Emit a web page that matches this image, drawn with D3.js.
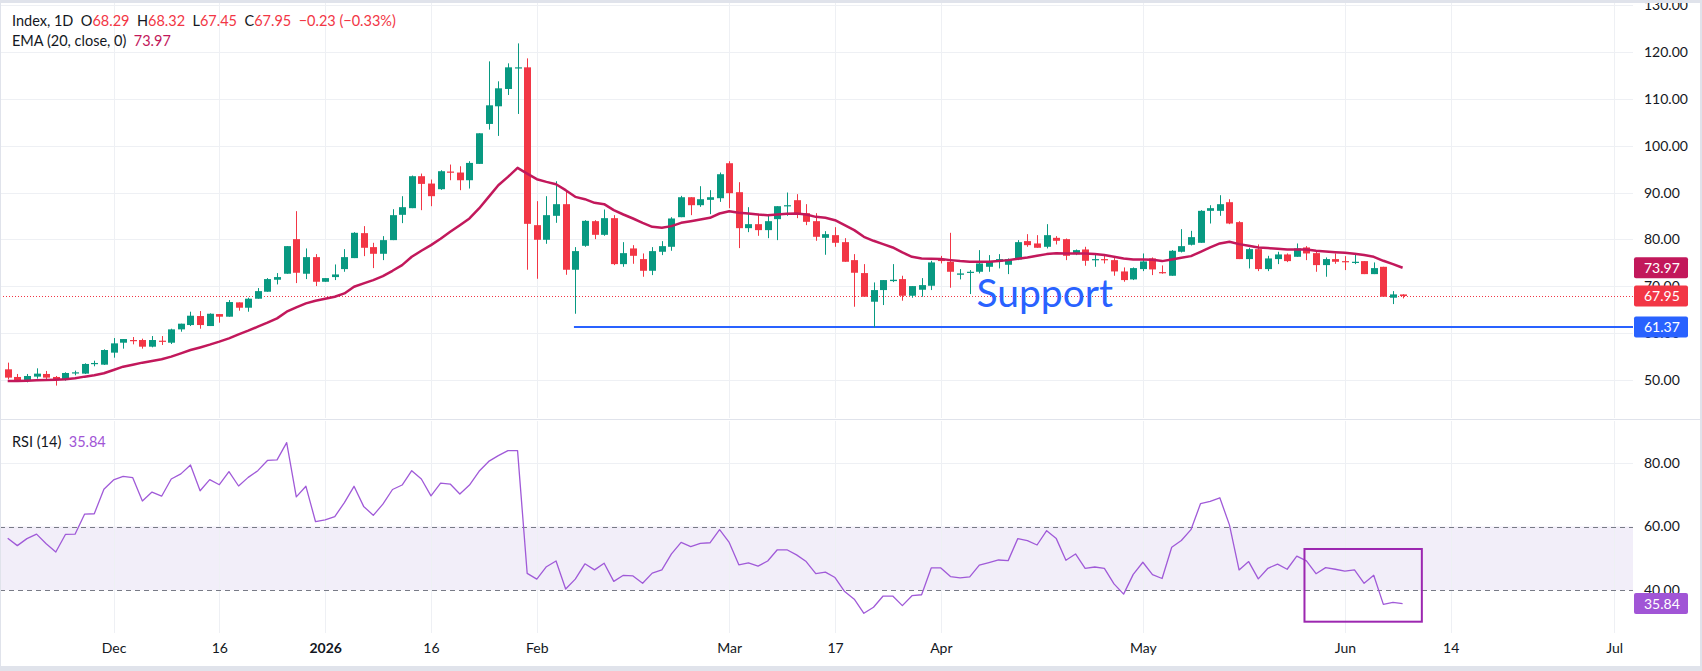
<!DOCTYPE html>
<html><head><meta charset="utf-8">
<script src="https://cdn.jsdelivr.net/npm/d3@7"></script>
<style>
html,body{margin:0;padding:0;background:#fff;}
svg{display:block;}
text{font-family:Lato,"DejaVu Sans",sans-serif;}
</style>
</head><body>
<svg id="chart" width="1702" height="671"></svg>
<script>
// ---------------- DATA ----------------
const bars = d3.range(146); // daily bars, index 0 = first visible bar
const open  = [52.34,50.71,50.07,50.78,51.35,50.71,50.07,51.49,51.42,53.55,53.33,55.89,58.01,58.58,58.58,57.16,58.44,58.01,60.85,61.77,63.69,61.56,64.11,63.55,66.6,65.46,67.38,68.87,71.42,72.7,80.07,72.7,76.24,70.99,71.99,73.69,76.03,81.35,78.37,76.95,79.86,85.25,86.67,93.48,91.91,90.71,94.47,94.26,92.62,96.1,104.61,108.37,112.06,116.52,116.67,83.05,79.93,85.04,87.52,73.55,78.65,83.9,80.99,84.54,74.75,78.09,75.82,73.33,77.38,78.44,84.75,89.0,87.3,88.44,88.79,96.24,90.07,82.41,83.26,81.99,84.33,87.09,88.37,85.6,83.9,80.35,80.92,79.43,75.6,72.84,66.74,69.22,71.13,71.56,68.01,69.29,70.14,75.7,75.25,72.48,72.91,73.12,74.18,75.32,74.61,75.74,79.65,79.15,78.44,80.35,80.07,76.88,77.87,75.67,75.82,75.6,73.19,71.49,73.69,75.96,73.05,72.27,77.38,78.87,79.29,86.1,86.1,87.94,83.69,75.82,77.94,73.69,75.82,76.81,76.31,78.3,77.09,74.54,75.82,75.39,75.04,75.39,72.62,74.18,67.59,68.29];
const high  = [53.76,51.35,51.35,52.55,51.99,50.92,51.7,52.06,53.62,54.18,56.6,59.0,58.79,59.22,58.87,59.43,59.43,60.99,62.06,64.61,64.75,64.26,64.11,67.09,66.6,67.59,69.65,71.77,72.84,78.58,86.03,78.09,76.88,71.77,74.68,77.94,81.56,82.84,79.29,80.71,86.45,89.22,93.62,94.04,92.77,94.75,95.96,95.6,96.67,102.62,117.94,113.69,117.52,121.77,118.58,88.16,89.22,92.41,90.43,78.37,84.11,84.11,86.38,85.18,79.43,78.79,77.02,78.37,79.65,84.75,89.29,89.0,91.35,90.5,94.26,96.67,92.2,86.88,85.53,85.18,87.09,90.0,89.65,87.52,85.6,81.77,82.62,80.28,76.88,74.75,70.85,71.35,74.75,72.27,70.07,71.77,75.46,76.5,81.42,73.69,73.48,77.73,76.67,76.88,75.96,79.86,81.13,80.92,83.26,80.71,80.21,77.87,78.44,76.88,76.67,76.03,74.04,74.04,77.02,76.17,74.47,77.73,82.2,81.84,86.24,87.3,89.43,88.58,83.9,78.23,78.94,76.52,77.38,77.02,79.15,78.58,77.45,76.17,77.02,76.45,77.02,75.39,75.11,74.18,69.0,68.32];
const low   = [50.2,49.86,49.57,50.35,50.2,48.87,49.93,51.06,51.35,52.98,53.26,54.82,56.74,57.66,56.74,57.02,57.52,57.73,60.35,61.56,60.99,61.56,62.27,63.55,64.82,64.61,67.38,68.87,70.43,72.7,70.71,71.56,70.07,70.99,71.35,73.12,76.03,76.45,73.9,75.6,79.86,83.48,86.67,86.24,87.09,90.57,92.62,90.5,90.85,96.1,103.4,102.06,110.78,106.74,73.55,71.63,79.08,83.55,72.48,64.18,78.44,80.07,80.78,74.54,74.18,74.82,72.06,72.41,76.67,77.59,84.75,85.18,86.95,85.39,88.01,86.67,78.16,81.56,80.78,80.28,79.86,85.04,84.54,83.05,79.72,76.74,78.44,75.25,65.67,67.8,61.28,66.03,70.92,66.95,67.59,67.8,69.22,74.9,69.72,71.49,68.37,72.77,73.12,73.83,72.62,75.6,78.44,78.23,78.09,78.94,75.6,76.67,74.4,74.18,74.89,72.27,71.0,71.35,73.26,72.41,72.7,72.27,77.23,78.72,79.29,83.4,85.04,83.26,75.82,73.83,73.26,73.26,74.75,75.18,76.31,75.6,73.12,72.06,74.82,73.48,74.75,72.62,72.62,67.8,66.24,67.45];
const close = [50.57,50.07,50.92,51.42,50.57,50.07,51.56,51.7,53.48,53.69,56.45,57.87,58.79,58.37,57.16,58.58,58.23,60.85,62.06,63.76,61.77,64.18,63.55,66.67,65.46,67.38,69.0,71.56,71.99,78.58,72.91,76.24,70.99,71.77,72.55,76.24,81.42,78.23,76.95,79.86,85.18,86.88,93.48,91.84,89.22,94.54,94.26,92.62,96.31,102.62,108.58,112.2,116.67,116.67,83.33,79.93,85.18,87.52,73.55,77.52,83.97,80.99,84.54,74.75,77.09,76.52,73.33,77.52,78.58,84.47,89.0,87.3,88.58,89.0,93.9,89.86,82.41,83.26,81.99,83.9,87.09,87.3,85.39,83.76,80.57,81.13,79.29,75.25,72.91,67.8,69.22,71.35,71.42,68.01,70.07,70.28,75.11,75.4,73.12,72.77,73.12,74.89,75.32,75.82,75.82,79.43,78.79,78.23,80.92,79.72,76.52,77.73,75.46,75.82,75.6,73.19,71.35,73.9,75.32,73.62,72.84,77.59,78.58,80.5,86.1,86.67,87.52,83.4,75.82,77.94,73.69,75.96,76.81,75.39,78.09,77.02,74.54,75.82,75.25,75.18,75.25,72.62,73.9,67.8,68.3,67.95];
const ema20 = [49.86,49.86,49.93,50.0,50.07,50.14,50.21,50.43,50.78,51.06,51.49,52.2,52.9,53.33,53.76,54.11,54.47,55.04,55.74,56.45,57.0,57.59,58.23,58.94,59.79,60.57,61.42,62.27,63.19,64.61,65.53,66.38,66.95,67.38,67.8,68.51,69.93,70.64,71.35,72.2,73.33,74.54,76.31,77.59,78.79,80.14,81.63,83.05,84.47,86.6,89.08,91.56,93.33,95.25,94.04,92.84,92.27,91.77,90.5,89.08,88.58,87.8,87.52,86.24,85.32,84.47,83.55,82.7,82.48,82.84,83.55,83.9,84.25,84.61,85.53,86.03,85.67,85.53,85.32,85.18,85.32,85.46,85.53,85.32,84.82,84.61,84.11,83.05,81.99,80.57,79.72,79.01,78.3,77.23,76.31,75.96,75.89,75.82,75.6,75.39,75.25,75.25,75.25,75.39,75.6,75.89,76.17,76.52,76.88,77.09,77.02,77.02,77.02,76.88,76.67,76.31,75.96,75.74,75.74,75.67,75.39,75.74,76.1,76.45,77.38,78.3,79.15,79.5,79.01,78.65,78.3,78.16,78.01,77.87,77.87,77.87,77.59,77.45,77.3,77.16,76.95,76.67,76.31,75.46,74.75,73.97];
const rsi14 = [56.3,54.0,56.2,57.6,54.6,52.0,57.5,57.6,63.9,64.0,71.7,74.6,75.7,75.3,68.0,70.8,69.5,74.9,76.5,79.3,71.2,74.7,73.1,77.2,72.7,75.4,77.5,80.7,80.9,86.3,69.3,72.6,61.5,62.1,63.1,67.5,72.6,66.3,63.5,67.0,71.6,73.0,77.5,74.9,69.6,73.6,73.3,70.2,73.0,77.3,80.4,82.2,83.8,83.8,45.3,43.5,47.4,49.2,40.4,43.5,48.3,46.4,48.5,42.8,44.7,44.5,42.2,45.4,46.4,51.4,55.0,53.7,54.7,54.9,59.0,55.0,48.0,48.6,47.6,49.2,52.7,52.7,51.1,49.0,45.2,45.7,44.0,39.6,37.2,32.8,34.7,38.2,38.2,35.2,38.3,38.6,47.0,47.0,44.3,43.9,44.2,47.9,48.7,49.5,49.3,56.2,55.6,54.2,58.7,56.2,49.4,51.4,46.9,47.3,46.9,42.0,38.8,45.0,48.8,44.9,43.7,53.5,55.6,59.0,67.2,67.9,69.0,60.5,46.4,49.0,43.6,46.9,48.2,46.6,50.7,49.2,45.2,47.1,46.6,46.0,46.4,42.2,44.7,35.6,36.2,35.84];

const priceTicks = [50,60,70,80,90,100,110,120,130];
const rsiTicks = [40,60,80];
const rsiBand = [40,60];
const timeTickIndex  = [11,22,33,44,55,75,86,97,118,139,150,167];
const timeTickLabels = ["Dec","16","2026","16","Feb","Mar","17","Apr","May","Jun","14","Jul"];
const timeTickBold   = ["2026"];

const supportLevel = 61.37, supportStartBar = 58.86;
const supportLabel = {text:"Support", bar:100.7, price:65.67};
const rsiBox = {bar0:134.8, bar1:147.0, top:52.95, bottom:30.16};

const legendInfo = {name:"Index, 1D", o:68.29, h:68.32, l:67.45, c:67.95, chg:-0.23, pct:-0.33};

// ---------------- LAYOUT ----------------
const W = 1702, H = 671;
const plotRight = 1633;
const pricePane = {top:3, bottom:418};
const rsiPane = {top:421, bottom:633};
const UP = "#089981", DOWN = "#f23645", EMAC = "#c2185b", BLUE = "#2962ff", RSIC = "#a05ad8", BOXC = "#9c27b0";
const GRID = "#eef0f4", TXT = "#131722";

const svg = d3.select("#chart");
svg.append("rect").attr("width",W).attr("height",H).attr("fill","#e0e3eb");
svg.append("rect").attr("x",1).attr("y",3).attr("width",W-3).attr("height",H-8).attr("fill","#ffffff");

const x = d3.scaleLinear().domain([0,145]).range([7.7, 7.7+145*9.62]);
const y = d3.scaleLinear().domain([50,120]).range([380.3, 51.7]);
const yr = d3.scaleLinear().domain([40,80]).range([590.3, 462.7]);
const fmt2 = d3.format(".2f");

const defs = svg.append("defs");
defs.append("clipPath").attr("id","cp").append("rect").attr("x",1).attr("y",pricePane.top).attr("width",plotRight-1).attr("height",pricePane.bottom-pricePane.top);
defs.append("clipPath").attr("id","cr").append("rect").attr("x",1).attr("y",rsiPane.top).attr("width",plotRight-1).attr("height",rsiPane.bottom-rsiPane.top);
defs.append("clipPath").attr("id","ca").append("rect").attr("x",1).attr("y",3).attr("width",W-3).attr("height",H-8);

// pane separator
svg.append("line").attr("x1",1).attr("x2",W-2).attr("y1",419.5).attr("y2",419.5).attr("stroke","#e0e3eb").attr("stroke-width",1);

// ---------- price pane ----------
const gp = svg.append("g").attr("clip-path","url(#cp)");
gp.selectAll("line.hg").data(priceTicks).join("line").attr("class","hg")
  .attr("x1",0).attr("x2",plotRight).attr("y1",d=>Math.round(y(d))+0.5).attr("y2",d=>Math.round(y(d))+0.5)
  .attr("stroke",GRID);
gp.selectAll("line.vg").data(timeTickIndex).join("line").attr("class","vg")
  .attr("x1",d=>Math.round(x(d))+0.5).attr("x2",d=>Math.round(x(d))+0.5).attr("y1",pricePane.top).attr("y2",pricePane.bottom)
  .attr("stroke",GRID);

// support line
gp.append("line").attr("x1",x(supportStartBar)).attr("x2",plotRight).attr("y1",y(supportLevel)).attr("y2",y(supportLevel))
  .attr("stroke",BLUE).attr("stroke-width",2);

// last close dotted line
gp.append("line").attr("x1",0).attr("x2",plotRight).attr("y1",Math.round(y(close[145]))+0.5).attr("y2",Math.round(y(close[145]))+0.5)
  .attr("stroke",DOWN).attr("stroke-width",1).attr("stroke-dasharray","1,2");

// candles
const cg = gp.append("g");
bars.forEach(i=>{
  const col = close[i] >= open[i] ? UP : DOWN;
  const cx = Math.round(x(i));
  cg.append("line").attr("x1",cx+0.5).attr("x2",cx+0.5).attr("y1",y(high[i])).attr("y2",y(low[i])).attr("stroke",col).attr("stroke-width",1);
  const t = y(Math.max(open[i],close[i])), b = y(Math.min(open[i],close[i]));
  cg.append("rect").attr("x",cx-3).attr("width",7).attr("y",t).attr("height",Math.max(1.2,b-t)).attr("fill",col);
});

// EMA
gp.append("path").datum(bars).attr("fill","none").attr("stroke",EMAC).attr("stroke-width",2.5).attr("stroke-linejoin","round")
  .attr("d",d3.line().x(i=>x(i)).y(i=>y(ema20[i])));

// Support text
gp.append("text").attr("x",x(supportLabel.bar)).attr("y",y(supportLabel.price)).text(supportLabel.text)
  .attr("fill",BLUE).attr("font-size",39);

// ---------- RSI pane ----------
const gr = svg.append("g").attr("clip-path","url(#cr)");
gr.append("rect").attr("x",0).attr("width",plotRight).attr("y",yr(rsiBand[1])).attr("height",yr(rsiBand[0])-yr(rsiBand[1])).attr("fill","#f2eef9");
gr.selectAll("line.vg").data(timeTickIndex).join("line").attr("class","vg")
  .attr("x1",d=>Math.round(x(d))+0.5).attr("x2",d=>Math.round(x(d))+0.5).attr("y1",rsiPane.top).attr("y2",rsiPane.bottom)
  .attr("stroke",GRID);
gr.append("line").attr("x1",0).attr("x2",plotRight).attr("y1",Math.round(yr(80))+0.5).attr("y2",Math.round(yr(80))+0.5).attr("stroke",GRID);
gr.selectAll("line.band").data(rsiBand).join("line").attr("class","band")
  .attr("x1",0).attr("x2",plotRight).attr("y1",d=>Math.round(yr(d))+0.5).attr("y2",d=>Math.round(yr(d))+0.5)
  .attr("stroke","#787b86").attr("stroke-dasharray","5,4");
gr.append("path").datum(bars).attr("fill","none").attr("stroke",RSIC).attr("stroke-width",1.3).attr("stroke-linejoin","round")
  .attr("d",d3.line().x(i=>x(i)).y(i=>yr(rsi14[i])));
gr.append("rect").attr("x",x(rsiBox.bar0)).attr("y",yr(rsiBox.top)).attr("width",x(rsiBox.bar1)-x(rsiBox.bar0)).attr("height",yr(rsiBox.bottom)-yr(rsiBox.top))
  .attr("fill","none").attr("stroke",BOXC).attr("stroke-width",2);

// ---------- axes ----------
const ga = svg.append("g").attr("clip-path","url(#ca)");
const pAxis = ga.append("g").attr("transform",`translate(${plotRight},0)`)
  .call(d3.axisRight(y).tickValues(priceTicks).tickFormat(fmt2).tickSize(0).tickPadding(11));
pAxis.select(".domain").remove();
pAxis.selectAll("text").attr("font-family","Lato").attr("font-size",14).attr("fill",TXT);

const rAxis = ga.append("g").attr("transform",`translate(${plotRight},0)`)
  .call(d3.axisRight(yr).tickValues(rsiTicks).tickFormat(fmt2).tickSize(0).tickPadding(11));
rAxis.select(".domain").remove();
rAxis.selectAll("text").attr("font-family","Lato").attr("font-size",14).attr("fill",TXT);

const tAxis = ga.append("g").attr("transform",`translate(0,${rsiPane.bottom})`)
  .call(d3.axisBottom(x).tickValues(timeTickIndex).tickFormat((d,k)=>timeTickLabels[k]).tickSize(0).tickPadding(10));
tAxis.select(".domain").remove();
tAxis.selectAll("text").attr("font-family","Lato").attr("font-size",14).attr("fill",TXT)
  .attr("font-weight",(d,k)=>timeTickBold.includes(timeTickLabels[k])?"bold":"normal");

// price labels (boxes)
function tag(val, color, yy){
  const g = ga.append("g");
  g.append("rect").attr("x",plotRight+1).attr("y",yy-10.5).attr("width",54).attr("height",21).attr("rx",2).attr("fill",color);
  g.append("text").attr("x",plotRight+11).attr("y",yy).attr("dy","0.36em").text(fmt2(val))
    .attr("fill","#fff").attr("font-size",14);
}
tag(ema20[145], EMAC, y(ema20[145]));
tag(close[145], DOWN, y(close[145]));
tag(supportLevel, BLUE, y(supportLevel));
tag(rsi14[145], "#a155d6", yr(rsi14[145]));

// ---------- legends ----------
function legendLine(yy, parts){
  const t = svg.append("text").attr("x",12).attr("y",yy).attr("font-size",14.5).attr("xml:space","preserve");
  parts.forEach(p=>t.append("tspan").text(p[0]).attr("fill",p[1]));
}
const li = legendInfo;
legendLine(26,[[li.name+"  ",TXT],["O",TXT],[fmt2(li.o)+"  ",DOWN],["H",TXT],[fmt2(li.h)+"  ",DOWN],["L",TXT],[fmt2(li.l)+"  ",DOWN],["C",TXT],[fmt2(li.c)+"  ",DOWN],[fmt2(li.chg)+" (\u2212"+fmt2(Math.abs(li.pct))+"%)",DOWN]]);
legendLine(46,[["EMA (20, close, 0)  ",TXT],[fmt2(ema20[145]),EMAC]]);
legendLine(447,[["RSI (14)  ",TXT],[fmt2(rsi14[145]),"#a155d6"]]);
</script>
</body></html>
